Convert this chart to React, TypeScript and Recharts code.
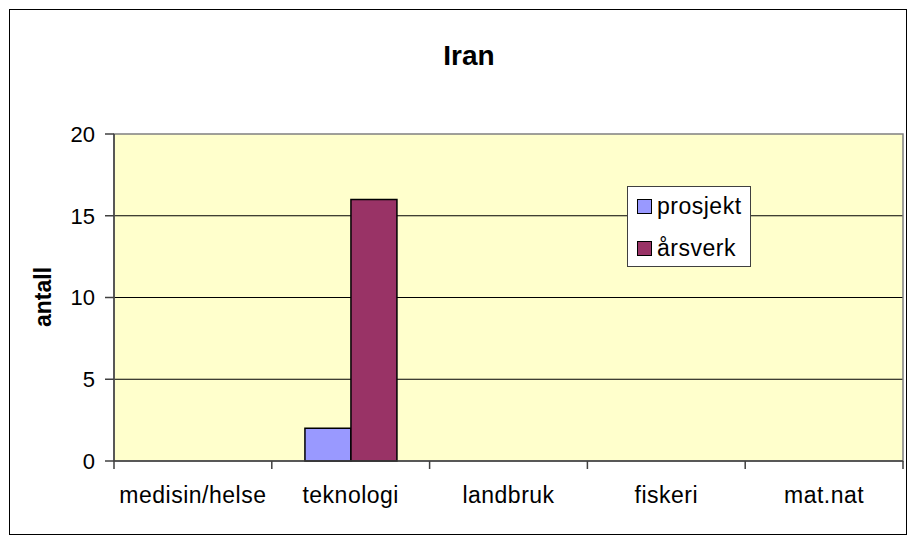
import React from "react"
import { BarChart, Bar, XAxis, YAxis, CartesianGrid, ReferenceArea } from "recharts"

const categories = ["medisin/helse", "teknologi", "landbruk", "fiskeri", "mat.nat"]
const prosjekt = [0, 2, 0, 0, 0]
const aarsverk = [0, 16, 0, 0, 0]
const yTicks = [0, 5, 10, 15, 20]

const data = categories.map((c, i) => ({ name: c, prosjekt: prosjekt[i], aarsverk: aarsverk[i] }))

const FONT = "Liberation Sans, Arial, sans-serif"
const PLOT_LEFT = 114
const PLOT_RIGHT = 903
const PLOT_BOTTOM = 461
const BAND = (PLOT_RIGHT - PLOT_LEFT) / categories.length

const XTick = (props: any) => {
  const { x, payload, index } = props
  const half = BAND / 2
  return (
    <g>
      <line x1={x - half} x2={x - half} y1={PLOT_BOTTOM} y2={PLOT_BOTTOM + 8} stroke="#404040" strokeWidth={1.5} />
      {index === categories.length - 1 && (
        <line x1={x + half} x2={x + half} y1={PLOT_BOTTOM} y2={PLOT_BOTTOM + 8} stroke="#404040" strokeWidth={1.5} />
      )}
      <text
        x={x}
        y={PLOT_BOTTOM + 42}
        textAnchor="middle"
        fontSize={23}
        letterSpacing={0.5}
        fontFamily={FONT}
        fill="#000"
      >
        {payload.value}
      </text>
    </g>
  )
}

const legendItems = [
  { label: "prosjekt", color: "#9999FF" },
  { label: "årsverk", color: "#993366" },
]

export default function App() {
  return (
    <div style={{ position: "absolute", left: 0, top: 0, width: 918, height: 541, fontFamily: FONT, background: "#fff" }}>
      <div
        style={{
          position: "absolute",
          left: 9,
          top: 9,
          width: 898,
          height: 526,
          border: "1.5px solid #000",
          boxSizing: "border-box",
        }}
      />
      <div
        style={{
          position: "absolute",
          left: 369,
          width: 200,
          top: 38,
          textAlign: "center",
          fontSize: 28,
          fontWeight: "bold",
          lineHeight: "36px",
        }}
      >
        Iran
      </div>
      <div
        style={{
          position: "absolute",
          left: 43 - 50,
          top: 297 - 14,
          width: 100,
          height: 28,
          lineHeight: "28px",
          textAlign: "center",
          fontSize: 23,
          fontWeight: "bold",
          transform: "rotate(-90deg)",
        }}
      >
        antall
      </div>
      <div style={{ position: "absolute", left: 0, top: 0 }}>
        <BarChart
          width={918}
          height={541}
          data={data}
          margin={{ top: 134, right: 15, left: 54, bottom: 50 }}
          barCategoryGap="21%"
          barGap={0}
        >
          <CartesianGrid fill="#FFFFCC" stroke="#000" vertical={false} horizontalValues={[5, 10, 15]} />
          <ReferenceArea y1={0} y2={20} fill="none" stroke="#808080" strokeWidth={1.5} />
          <XAxis
            dataKey="name"
            height={30}
            axisLine={{ stroke: "#404040", strokeWidth: 1.5 }}
            tickLine={false}
            tick={<XTick />}
            interval={0}
          />
          <YAxis
            width={60}
            domain={[0, 20]}
            ticks={yTicks}
            axisLine={{ stroke: "#404040", strokeWidth: 1.5 }}
            tickLine={{ stroke: "#404040", strokeWidth: 1.5 }}
            tickSize={9}
            tickMargin={10}
            tick={{ fontSize: 22, fontFamily: FONT, fill: "#000" }}
          />
          <Bar dataKey="prosjekt" fill="#9999FF" stroke="#000" strokeWidth={1.5} isAnimationActive={false} />
          <Bar dataKey="aarsverk" fill="#993366" stroke="#000" strokeWidth={1.5} isAnimationActive={false} />
        </BarChart>
      </div>
      <div
        style={{
          position: "absolute",
          left: 627,
          top: 186,
          width: 124,
          height: 81,
          background: "#fff",
          border: "1px solid #404040",
          boxSizing: "border-box",
        }}
      >
        {legendItems.map((it, i) => (
          <div
            key={it.label}
            style={{ position: "absolute", left: 9, top: 6 + i * 42, height: 26, display: "flex", alignItems: "center" }}
          >
            <span
              style={{
                display: "inline-block",
                width: 13,
                height: 13,
                background: it.color,
                border: "1.5px solid #000",
                marginRight: 5,
              }}
            />
            <span style={{ fontSize: 23, letterSpacing: 0.5 }}>{it.label}</span>
          </div>
        ))}
      </div>
    </div>
  )
}
